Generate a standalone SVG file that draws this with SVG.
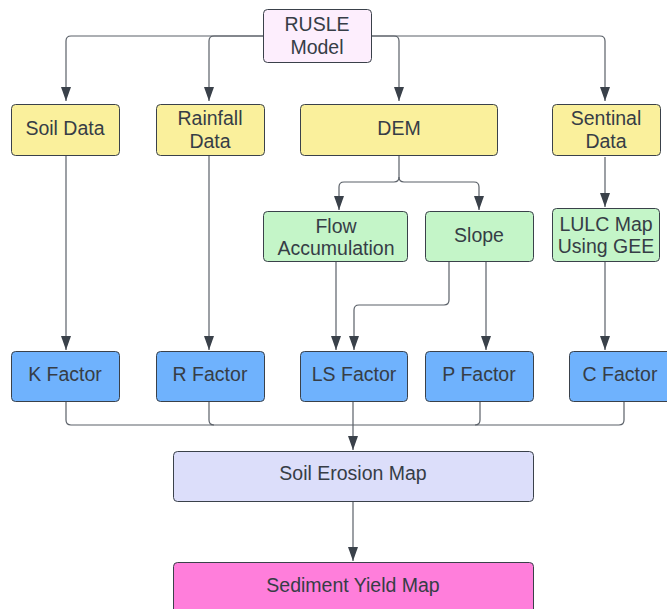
<svg xmlns="http://www.w3.org/2000/svg" width="667" height="609" viewBox="0 0 667 609">
  <defs>
    <marker id="arrow" markerUnits="userSpaceOnUse" markerWidth="15" markerHeight="12" viewBox="0 0 15 12" refX="14" refY="6" orient="auto">
      <path d="M0 1 L14 6 L0 11 Z" fill="#3a414a"/>
    </marker>
    <style>
      .box { stroke: #3a414a; stroke-width: 1; }
      .lbl { font-family: "Liberation Sans", Arial, sans-serif; font-size: 19.5px; fill: #363d46; text-anchor: middle; }
      .c { fill: none; stroke: #5a6068; stroke-width: 1.2; }
      .a { marker-end: url(#arrow); }
      .y { fill: #faf09c; }
      .g { fill: #c4f5c8; }
      .b { fill: #6fb2fd; }
    </style>
  </defs>

  <g id="connectors">
    <!-- RUSLE fan-out -->
    <path class="c a" d="M263 36 H71 Q66 36 66 41 V101"/>
    <path class="c a" d="M263 36 H214 Q209 36 209 41 V101"/>
    <path class="c a" d="M371 36 H394 Q399 36 399 41 V101"/>
    <path class="c a" d="M371 36 H600 Q605 36 605 41 V101"/>
    <!-- data to factors -->
    <path class="c a" d="M66 156 V350"/>
    <path class="c a" d="M209 156 V350"/>
    <path class="c a" d="M605 157 V207"/>
    <path class="c a" d="M605 261 V350"/>
    <!-- DEM split -->
    <path class="c a" d="M399 156 V177 Q399 182 394 182 H344 Q339 182 339 187 V210"/>
    <path class="c a" d="M399 177 Q399 182 404 182 H474 Q479 182 479 187 V210"/>
    <!-- flow / slope to factors -->
    <path class="c a" d="M336 261 V350"/>
    <path class="c a" d="M449 261 V300 Q449 305 444 305 H359 Q354 305 354 310 V350"/>
    <path class="c a" d="M486 261 V350"/>
    <!-- factors merge -->
    <path class="c" d="M66 401 V420 Q66 425 71 425 H619 Q624 425 624 420 V401"/>
    <path class="c" d="M209 401 V420 Q209 425 214 425"/>
    <path class="c" d="M480 401 V420 Q480 425 475 425"/>
    <path class="c a" d="M353 401 V450"/>
    <path class="c a" d="M353 501 V561"/>
  </g>

  <g id="rusle">
    <rect class="box" x="263.5" y="9.5" width="108" height="53" rx="4" fill="#fdeefd"/>
    <text class="lbl" x="317" y="31">RUSLE</text>
    <text class="lbl" x="317" y="54">Model</text>
  </g>

  <g id="soil-data">
    <rect class="box y" x="11.5" y="104.5" width="108" height="51" rx="4"/>
    <text class="lbl" x="65" y="135">Soil Data</text>
  </g>
  <g id="rainfall-data">
    <rect class="box y" x="156.5" y="104.5" width="108" height="51" rx="4"/>
    <text class="lbl" x="210" y="125">Rainfall</text>
    <text class="lbl" x="210" y="148">Data</text>
  </g>
  <g id="dem">
    <rect class="box y" x="300.5" y="104.5" width="197" height="51" rx="4"/>
    <text class="lbl" x="399" y="135">DEM</text>
  </g>
  <g id="sentinal-data">
    <rect class="box y" x="552.5" y="104.5" width="108" height="51" rx="4"/>
    <text class="lbl" x="606" y="125">Sentinal</text>
    <text class="lbl" x="606" y="148">Data</text>
  </g>

  <g id="flow-accumulation">
    <rect class="box g" x="263.5" y="211.5" width="144" height="50" rx="4"/>
    <text class="lbl" x="336" y="233">Flow</text>
    <text class="lbl" x="336" y="255">Accumulation</text>
  </g>
  <g id="slope">
    <rect class="box g" x="425.5" y="211.5" width="108" height="50" rx="4"/>
    <text class="lbl" x="479" y="242">Slope</text>
  </g>
  <g id="lulc-map">
    <rect class="box g" x="552.5" y="208.5" width="107" height="53" rx="4"/>
    <text class="lbl" x="606" y="231">LULC Map</text>
    <text class="lbl" x="606" y="253">Using GEE</text>
  </g>

  <g id="k-factor">
    <rect class="box b" x="11.5" y="351.5" width="108" height="50" rx="4"/>
    <text class="lbl" x="65" y="381">K Factor</text>
  </g>
  <g id="r-factor">
    <rect class="box b" x="156.5" y="351.5" width="108" height="50" rx="4"/>
    <text class="lbl" x="210" y="381">R Factor</text>
  </g>
  <g id="ls-factor">
    <rect class="box b" x="300.5" y="351.5" width="107" height="50" rx="4"/>
    <text class="lbl" x="354" y="381">LS Factor</text>
  </g>
  <g id="p-factor">
    <rect class="box b" x="425.5" y="351.5" width="108" height="50" rx="4"/>
    <text class="lbl" x="479" y="381">P Factor</text>
  </g>
  <g id="c-factor">
    <rect class="box b" x="569.5" y="351.5" width="108" height="50" rx="4"/>
    <text class="lbl" x="620" y="381">C Factor</text>
  </g>

  <g id="soil-erosion-map">
    <rect class="box" x="173.5" y="451.5" width="360" height="50" rx="4" fill="#dcdefa"/>
    <text class="lbl" x="353" y="480">Soil Erosion Map</text>
  </g>
  <g id="sediment-yield-map">
    <rect class="box" x="173.5" y="562.5" width="360" height="60" rx="4" fill="#ff7edb"/>
    <text class="lbl" x="353" y="592">Sediment Yield Map</text>
  </g>
</svg>
